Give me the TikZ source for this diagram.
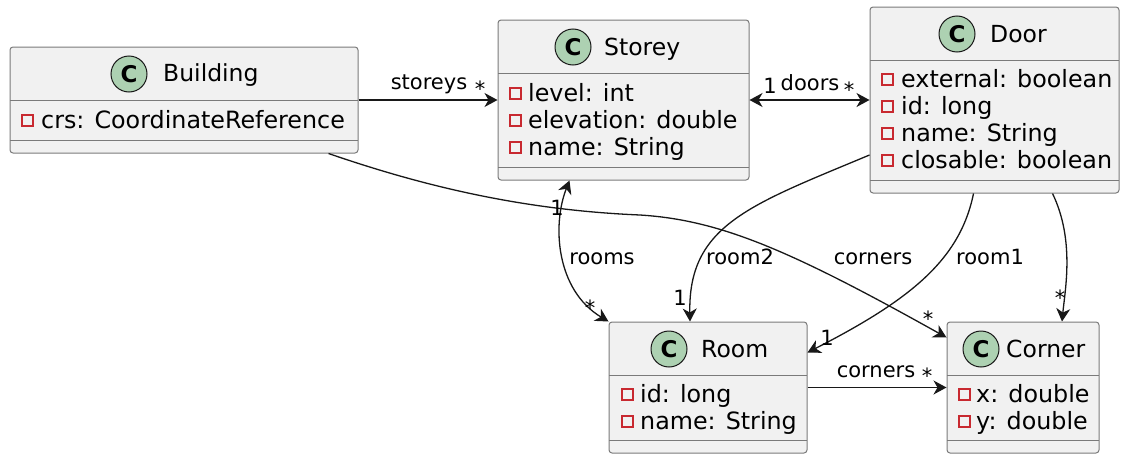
\documentclass[tikz,border=0pt]{standalone}
\usepackage{fontspec}
\setmainfont{DejaVu Sans}
\usepackage{xcolor}
\usepackage{tikz}
\usetikzlibrary{arrows.meta,positioning,calc}
\definecolor{boxfill}{HTML}{F1F1F1}
\definecolor{boxline}{HTML}{7A7A7A}
\definecolor{iconfill}{HTML}{ADD1B2}
\definecolor{privred}{HTML}{C82930}
\definecolor{linkcol}{HTML}{181818}

\begin{document}
\begin{tikzpicture}[x=1pt,y=-1pt,
    >={Stealth[length=13pt,width=14pt,inset=4pt]},
    classbox/.style={draw=boxline,fill=boxfill,rounded corners=3pt,line width=1pt,inner sep=0pt},
    icon/.style={circle,draw=linkcol,fill=iconfill,line width=1pt,minimum size=36pt,inner sep=0pt,font=\fontsize{23}{23}\selectfont\bfseries},
    ctitle/.style={anchor=base west,inner sep=0pt,font=\fontsize{23.5}{27}\selectfont},
    attr/.style={anchor=base west,inner sep=0pt,font=\fontsize{23.8}{27}\selectfont},
    priv/.style={draw=privred,line width=1.5pt},
    sep/.style={draw=boxline,line width=1pt},
    link/.style={draw=linkcol,line width=1.3pt},
    lbl/.style={anchor=base,inner sep=0pt,font=\fontsize{21}{25}\selectfont}]
    \useasboundingbox (0,0) rectangle (1121,455);

    % Building
    \node[classbox,minimum width=348,minimum height=106] (building) at (184,100) {};
    \draw[sep] (10,100) -- (358,100);
    \draw[sep] (10,140) -- (358,140);
    \node[icon] (buildingC) at (129,74) {C};
    \node[ctitle] at (163,81) {Building};
    \draw[priv] (22,115) rectangle (33,126);
    \node[attr] at (41,128) {crs: CoordinateReference};

    % Storey
    \node[classbox,minimum width=251,minimum height=160] (storey) at (623.5,100) {};
    \draw[sep] (498,73) -- (749,73);
    \draw[sep] (498,167) -- (749,167);
    \node[icon] (storeyC) at (573,47) {C};
    \node[ctitle] at (604,55) {Storey};
    \draw[priv] (510,88) rectangle (521,99);
    \node[attr] at (528,101) {level: int};
    \draw[priv] (510,115) rectangle (521,126);
    \node[attr] at (528,128) {elevation: double};
    \draw[priv] (510,142) rectangle (521,153);
    \node[attr] at (528,155) {name: String};

    % Door
    \node[classbox,minimum width=249,minimum height=186] (door) at (994.5,100) {};
    \draw[sep] (870,60) -- (1119,60);
    \draw[sep] (870,180) -- (1119,180);
    \node[icon] (doorC) at (957,34) {C};
    \node[ctitle] at (990,42) {Door};
    \draw[priv] (882,74) rectangle (893,85);
    \node[attr] at (901,87) {external: boolean};
    \draw[priv] (882,101) rectangle (893,112);
    \node[attr] at (901,114) {id: long};
    \draw[priv] (882,128) rectangle (893,139);
    \node[attr] at (901,141) {name: String};
    \draw[priv] (882,155) rectangle (893,166);
    \node[attr] at (901,168) {closable: boolean};

    % Room
    \node[classbox,minimum width=198,minimum height=131] (room) at (708,387.5) {};
    \draw[sep] (609,375) -- (807,375);
    \draw[sep] (609,440) -- (807,440);
    \node[icon] (roomC) at (669,349) {C};
    \node[ctitle] at (701,357) {Room};
    \draw[priv] (622,389) rectangle (633,400);
    \node[attr] at (640,402) {id: long};
    \draw[priv] (622,416) rectangle (633,427);
    \node[attr] at (640,429) {name: String};

    % Corner
    \node[classbox,minimum width=152,minimum height=131] (corner) at (1023,387.5) {};
    \draw[sep] (947,375) -- (1099,375);
    \draw[sep] (947,440) -- (1099,440);
    \node[icon] (cornerC) at (981,349) {C};
    \node[ctitle] at (1006,357) {Corner};
    \draw[priv] (959,389) rectangle (970,400);
    \node[attr] at (976,402) {x: double};
    \draw[priv] (959,416) rectangle (970,427);
    \node[attr] at (976,429) {y: double};

    % Associations
    \draw[link,->] (building) -- (storey);
    \draw[link,<->] (storey) -- (door);
    \draw[link,<->] ([xshift=-54]storey.south) .. controls (552,225) and (556,290) .. (room.north west);
    \draw[link,->] ([xshift=-30]building.south east) .. controls (420,185) and (520,210) .. (640,215)
        .. controls (720,220) and (790,250) .. ([yshift=-16]corner.north west);
    \draw[link,->] ([yshift=-55]door.west) .. controls (750,205) and (688,225) .. ([xshift=-18]room.north);
    \draw[link,->] ([xshift=-21]door.south) .. controls (960,260) and (910,300) .. ([yshift=35]room.east);
    \draw[link,->] ([xshift=58]door.south) .. controls (1075,240) and (1065,290) .. ([xshift=39]corner.north);
    \draw[link,->] (room) -- (corner);

    % Role names and multiplicities
    \node[lbl] at (429,89) {storeys};
    \node[lbl] at (480,96) {*};
    \node[lbl] at (770,93) {1};
    \node[lbl] at (810,90) {doors};
    \node[lbl] at (849,97) {*};
    \node[lbl] at (557,215) {1};
    \node[lbl] at (602,264) {rooms};
    \node[lbl] at (590,315) {*};
    \node[lbl] at (740,264) {room2};
    \node[lbl] at (680,305) {1};
    \node[lbl] at (873,264) {corners};
    \node[lbl] at (928,326) {*};
    \node[lbl] at (990,264) {room1};
    \node[lbl] at (827,345) {1};
    \node[lbl] at (1060,305) {*};
    \node[lbl] at (876,377) {corners};
    \node[lbl] at (927,383) {*};
\end{tikzpicture}
\end{document}
